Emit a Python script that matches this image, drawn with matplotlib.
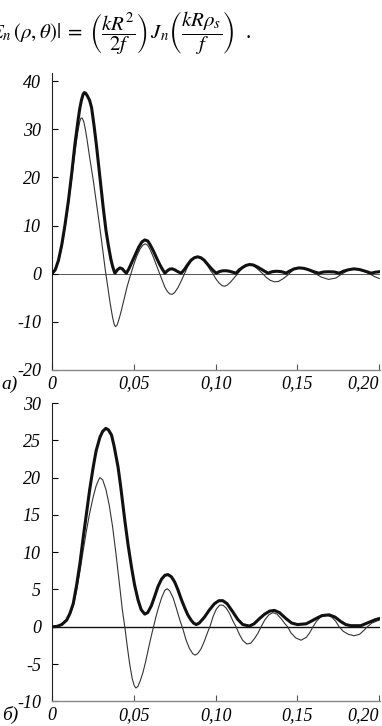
import matplotlib
matplotlib.use("Agg")
import matplotlib.pyplot as plt

plt.rcParams['font.family'] = ['Liberation Serif', 'DejaVu Serif']
plt.rcParams['mathtext.fontset'] = 'stix'
plt.rcParams['axes.unicode_minus'] = False

# panel a)
a_thin_x = [0, 0.002, 0.004, 0.006, 0.008, 0.010, 0.012, 0.014, 0.015, 0.016,
            0.017, 0.0177, 0.0185, 0.0195, 0.0205, 0.0215, 0.023, 0.0252, 0.0272, 0.0292,
            0.031, 0.0325, 0.034, 0.0355, 0.037, 0.038, 0.0388, 0.0396, 0.0405, 0.042,
            0.044, 0.046, 0.048, 0.050, 0.052, 0.054, 0.0555, 0.057, 0.0585, 0.060,
            0.062, 0.064, 0.0658, 0.0675, 0.069, 0.0705, 0.072, 0.0735, 0.075, 0.077,
            0.079, 0.081, 0.083, 0.085, 0.087, 0.089, 0.091, 0.093, 0.095, 0.097,
            0.0983, 0.100, 0.102, 0.104, 0.1055, 0.107, 0.109, 0.111, 0.1135, 0.116,
            0.118, 0.1205, 0.123, 0.1255, 0.1288, 0.131, 0.1335, 0.136, 0.1385, 0.141,
            0.143, 0.145, 0.1475, 0.151, 0.1545, 0.158, 0.161, 0.1645, 0.169, 0.1735,
            0.1775, 0.181, 0.1846, 0.1885, 0.192, 0.194, 0.197, 0.200]
a_thin_y = [0, 0.7, 2.5, 5.5, 9.5, 14.2, 19.5, 25.0, 27.6, 29.8,
            31.6, 32.3, 32.3, 31.5, 29.8, 27.7, 24.2, 19.5, 14.6, 9.7,
            5.0, 1.0, -2.5, -6.0, -9.0, -10.5, -11.0, -10.8, -10.0, -8.2,
            -5.4, -2.6, -0.3, 1.9, 3.8, 5.2, 5.9, 6.2, 5.9, 5.0,
            3.4, 1.6, 0, -1.5, -2.8, -3.7, -4.2, -4.3, -3.9, -2.9,
            -1.5, 0, 1.5, 2.6, 3.3, 3.5, 3.3, 2.6, 1.7, 0.6,
            0, -1.0, -1.9, -2.5, -2.6, -2.4, -1.8, -1.0, 0, 1.0,
            1.6, 1.9, 1.7, 1.0, 0, -0.8, -1.4, -1.7, -1.6, -1.1,
            -0.6, 0, 0.8, 1.2, 1.0, 0.5, 0, -0.7, -1.2, -0.9,
            0, 0.7, 1.0, 0.8, 0.3, 0, -0.6, -1.0]

a_thick_x = [0, 0.002, 0.004, 0.006, 0.008, 0.010, 0.012, 0.014, 0.016, 0.017,
             0.018, 0.019, 0.0197, 0.0205, 0.0215, 0.023, 0.0242, 0.0257, 0.0272, 0.029,
             0.0313, 0.033, 0.0345, 0.036, 0.037, 0.038, 0.0385, 0.040, 0.0415, 0.043,
             0.0445, 0.0455, 0.047, 0.049, 0.051, 0.053, 0.055, 0.0567, 0.0585, 0.060,
             0.062, 0.064, 0.066, 0.0675, 0.069, 0.0705, 0.072, 0.0735, 0.075, 0.077,
             0.079, 0.081, 0.083, 0.085, 0.087, 0.089, 0.091, 0.093, 0.095, 0.097,
             0.099, 0.1003, 0.1025, 0.1045, 0.1065, 0.1085, 0.1105, 0.1125, 0.1145, 0.1165,
             0.1185, 0.1207, 0.123, 0.1255, 0.128, 0.130, 0.132, 0.1345, 0.137, 0.1395,
             0.1415, 0.143, 0.145, 0.148, 0.151, 0.154, 0.157, 0.160, 0.163, 0.166,
             0.169, 0.1725, 0.1755, 0.178, 0.181, 0.1846, 0.188, 0.1915, 0.195, 0.1975,
             0.200]
a_thick_y = [0, 0.8, 2.8, 6.0, 10.2, 15.0, 20.6, 26.8, 32.0, 34.3,
             36.0, 37.2, 37.6, 37.5, 37.0, 36.0, 34.5, 30.8, 26.6, 21.0,
             13.8, 9.0, 5.8, 3.0, 1.6, 0.5, 0.1, 0.8, 1.2, 1.0,
             0.4, 0.1, 1.0, 2.5, 4.0, 5.5, 6.6, 7.0, 6.8, 6.0,
             4.7, 3.2, 1.8, 0.9, 0.1, 0.6, 0.95, 1.0, 0.8, 0.4,
             0.1, 0.9, 1.9, 2.8, 3.3, 3.5, 3.3, 2.8, 2.0, 1.2,
             0.5, 0.1, 0.45, 0.6, 0.6, 0.5, 0.3, 0.1, 0.8, 1.3,
             1.7, 1.9, 1.8, 1.4, 0.9, 0.5, 0.1, 0.4, 0.5, 0.45,
             0.3, 0.1, 0.5, 1.0, 1.2, 1.1, 0.8, 0.4, 0.1, 0.35,
             0.4, 0.35, 0.1, 0.5, 0.8, 1.0, 0.85, 0.5, 0.1, 0.3,
             0.4]

# panel б)
b_thin_x = [0, 0.003, 0.006, 0.009, 0.011, 0.013, 0.015, 0.017, 0.019, 0.0211,
            0.023, 0.0252, 0.027, 0.0285, 0.0293, 0.031, 0.033, 0.035, 0.037, 0.039,
            0.041, 0.043, 0.0445, 0.046, 0.0475, 0.049, 0.0503, 0.0513, 0.0525, 0.054,
            0.0555, 0.057, 0.0585, 0.060, 0.0615, 0.0635, 0.065, 0.067, 0.069, 0.0705,
            0.072, 0.074, 0.076, 0.078, 0.080, 0.082, 0.084, 0.086, 0.0875, 0.089,
            0.091, 0.093, 0.095, 0.0965, 0.0985, 0.1005, 0.1025, 0.1045, 0.1065, 0.1085,
            0.1105, 0.1125, 0.1145, 0.1165, 0.119, 0.1215, 0.124, 0.126, 0.1278, 0.130,
            0.1325, 0.135, 0.1375, 0.140, 0.142, 0.144, 0.146, 0.149, 0.1522, 0.1555,
            0.1575, 0.1595, 0.1615, 0.164, 0.1675, 0.171, 0.1735, 0.1755, 0.178, 0.181,
            0.1846, 0.188, 0.1905, 0.1927, 0.1955, 0.200]
b_thin_y = [0, 0.05, 0.3, 0.8, 1.6, 2.8, 4.8, 7.3, 10.1, 12.9,
            15.2, 17.4, 18.9, 19.7, 20.0, 19.7, 18.4, 16.3, 13.5, 10.0,
            6.2, 2.3, 0, -2.6, -5.0, -6.9, -7.9, -8.2, -8.0, -7.2,
            -6.2, -4.9, -3.4, -1.9, -0.5, 1.3, 2.5, 3.9, 4.9, 5.1,
            4.8, 3.9, 2.5, 1.0, -0.3, -1.8, -2.9, -3.6, -3.8, -3.6,
            -3.0, -2.0, -0.8, 0, 1.4, 2.4, 2.9, 2.9, 2.5, 1.8,
            0.8, 0, -1.0, -1.8, -2.3, -2.2, -1.5, -0.8, 0, 0.9,
            1.6, 1.9, 1.7, 1.1, 0.5, 0, -0.8, -1.5, -1.8, -1.4,
            -0.8, 0, 0.7, 1.3, 1.6, 1.3, 0.7, 0, -0.6, -1.0,
            -1.2, -1.0, -0.5, 0, 0.5, 0.9]

b_thick_x = [0, 0.003, 0.006, 0.009, 0.011, 0.013, 0.015, 0.0171, 0.019, 0.0211,
             0.023, 0.0252, 0.027, 0.0293, 0.031, 0.0329, 0.0345, 0.0364, 0.038, 0.0404,
             0.042, 0.0445, 0.0465, 0.0486, 0.0505, 0.0526, 0.0545, 0.0567, 0.0585, 0.0607,
             0.0628, 0.0648, 0.067, 0.069, 0.0709, 0.073, 0.075, 0.0769, 0.079, 0.081,
             0.083, 0.085, 0.0865, 0.0882, 0.090, 0.0932, 0.096, 0.0993, 0.102, 0.1044,
             0.107, 0.1105, 0.1135, 0.1166, 0.1207, 0.1235, 0.1268, 0.130, 0.133, 0.1359,
             0.139, 0.143, 0.1465, 0.150, 0.1553, 0.158, 0.1613, 0.165, 0.1694, 0.173,
             0.1765, 0.1795, 0.1826, 0.1887, 0.1915, 0.1948, 0.1975, 0.200]
b_thick_y = [0, 0.05, 0.3, 0.9, 1.8, 3.1, 5.5, 8.5, 11.8, 15.2,
             18.3, 21.4, 23.6, 25.4, 26.2, 26.6, 26.4, 25.7, 24.2, 21.4,
             18.8, 14.3, 11.0, 8.0, 5.6, 3.6, 2.3, 1.7, 1.9, 2.8,
             4.1, 5.4, 6.4, 6.9, 7.0, 6.7, 6.0, 5.0, 3.7, 2.6,
             1.6, 0.9, 0.5, 0.3, 0.5, 1.3, 2.2, 3.1, 3.5, 3.5,
             3.1, 2.0, 1.0, 0.3, 0.1, 0.4, 1.1, 1.7, 2.1, 2.2,
             1.9, 1.1, 0.5, 0.3, 0.4, 0.7, 1.1, 1.5, 1.6, 1.3,
             0.7, 0.3, 0.15, 0.15, 0.4, 0.7, 0.95, 1.1]

x_ticks = [0, 0.05, 0.10, 0.15, 0.20]
x_labels = ["0", "0,05", "0,10", "0,15", "0,20"]
a_yticks = [-20, -10, 0, 10, 20, 30, 40]
b_yticks = [-10, -5, 0, 5, 10, 15, 20, 25, 30]

fig = plt.figure(figsize=(3.82, 7.26), dpi=100)
ax_a = fig.add_axes([0.136, 0.4904, 0.859, 0.4086])
ax_b = fig.add_axes([0.136, 0.0339, 0.859, 0.411])


def style(ax, yticks, ylim, zero_color, zero_lw):
    ax.axhline(0, color=zero_color, lw=zero_lw, zorder=1)
    ax.set_xlim(0, 0.2005)
    ax.set_ylim(*ylim)
    ax.spines['top'].set_visible(False)
    ax.spines['right'].set_visible(False)
    ax.spines['left'].set_color('#222222')
    ax.spines['left'].set_linewidth(0.8)
    ax.spines['bottom'].set_color('#888888')
    ax.spines['bottom'].set_linewidth(1.0)
    ax.set_xticks(x_ticks)
    ax.set_xticklabels(x_labels)
    ax.set_yticks(yticks)
    ax.set_yticklabels([str(v) for v in yticks])
    ax.tick_params(direction='in', length=4, width=0.8, labelsize=13)
    ax.tick_params(axis='y', pad=8)
    ax.tick_params(axis='x', color='#555555', pad=4)
    for lab in ax.get_xticklabels() + ax.get_yticklabels():
        lab.set_fontstyle('italic')
    ax.get_xticklabels()[-1].set_horizontalalignment('right')


ax_a.plot(a_thin_x, a_thin_y, color='#333333', lw=0.8, zorder=2)
ax_a.plot(a_thick_x, a_thick_y, color='#111111', lw=2.2, zorder=3, solid_joinstyle='round')
style(ax_a, a_yticks, (-20, 41.6), '#555555', 0.7)

ax_b.plot(b_thin_x, b_thin_y, color='#333333', lw=0.8, zorder=2)
ax_b.plot(b_thick_x, b_thick_y, color='#111111', lw=2.2, zorder=3, solid_joinstyle='round')
style(ax_b, b_yticks, (-10, 30), '#111111', 1.0)

fig.text(0.005, 1 - 384 / 726, "a)", fontsize=14, fontstyle='italic', va='center')
fig.text(0.005, 1 - 715 / 726, "б)", fontsize=14, fontstyle='italic', va='center')

fig.text(-0.026, 1 - 33 / 726,
         r"$E_n\,(\rho,\theta)|\; =\; \left(\dfrac{kR^2}{2f}\right)\, J_n\left(\dfrac{kR\rho_s}{f}\right)\;$ .",
         fontsize=15, va='center', ha='left')

fig.savefig("out.png", dpi=100)
